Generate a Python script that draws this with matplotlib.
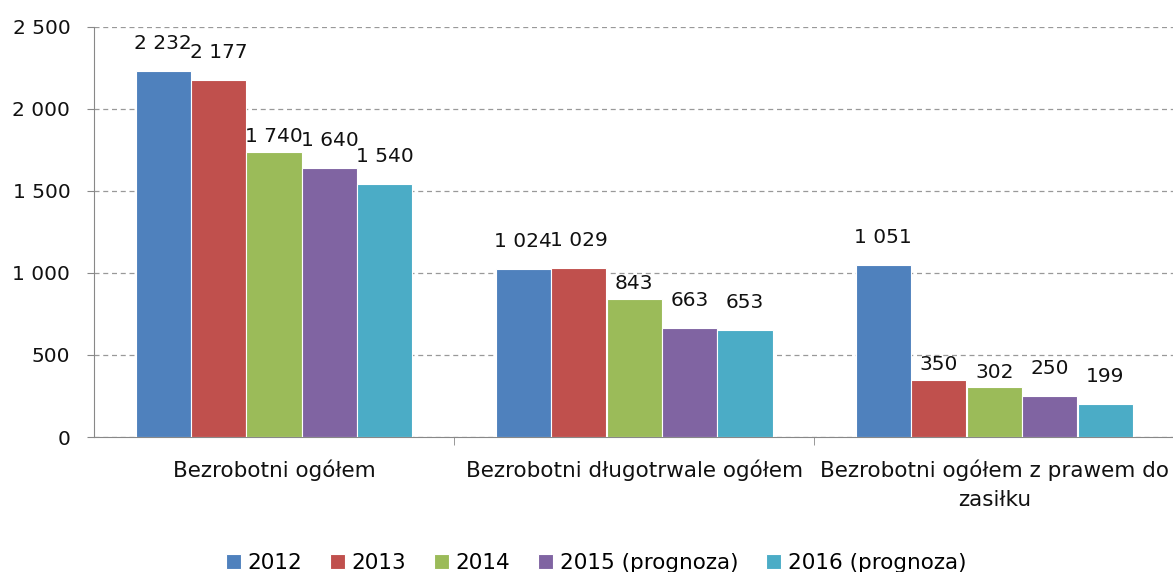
import matplotlib.pyplot as plt
import numpy as np

categories = ["Bezrobotni ogółem", "Bezrobotni długotrwale ogółem",
              "Bezrobotni ogółem z prawem do\nzasiłku"]
series = ["2012", "2013", "2014", "2015 (prognoza)", "2016 (prognoza)"]
v2012 = [2232, 1024, 1051]
v2013 = [2177, 1029, 350]
v2014 = [1740, 843, 302]
v2015 = [1640, 663, 250]
v2016 = [1540, 653, 199]
values = [v2012, v2013, v2014, v2015, v2016]
colors = ["#4F81BD", "#C0504D", "#9BBB59", "#8064A2", "#4BACC6"]

# labels that Excel pushed closer to the bar (series index, category index)
low_labels = {(2, 0), (2, 1), (1, 2), (2, 2)}

def fmt(v):
    return f"{v:,}".replace(",", " ")

plt.rcParams["font.family"] = "DejaVu Sans"
fig = plt.figure(figsize=(11.73, 5.72), dpi=100)
ax = fig.add_axes([0.0801, 0.236, 0.921, 0.717])

x = np.arange(len(categories))
w = 0.153
step = 0.154
for i, (name, vals) in enumerate(zip(series, values)):
    pos = x + (i - 2) * step
    bars = ax.bar(pos, vals, w, color=colors[i], edgecolor="white",
                  linewidth=0.8, label=name, zorder=3)
    for j, b in enumerate(bars):
        off = 4 if (i, j) in low_labels else 13
        ax.annotate(fmt(vals[j]), (b.get_x() + b.get_width() / 2, b.get_height()),
                    xytext=(0, off), textcoords="offset points",
                    ha="center", va="bottom", fontsize=14.5, color="#111111")

ax.set_xlim(-0.5, 2.5)
ax.set_ylim(0, 2500)
ax.set_yticks(range(0, 2501, 500))
ax.set_yticklabels([fmt(t) for t in range(0, 2501, 500)])
ax.yaxis.grid(True, linestyle=(0, (4, 3)), color="#999999", linewidth=0.9, zorder=0)

ax.set_xticks(x)
ax.set_xticklabels(categories, fontsize=15.5, color="#111111", linespacing=1.55)
ax.set_xticks([0.5, 1.5], minor=True)
ax.tick_params(axis="x", which="major", length=0, pad=16)
ax.tick_params(axis="x", which="minor", length=6, color="#888888")
ax.tick_params(axis="y", length=5, color="#888888", labelsize=14.5,
               labelcolor="#111111", pad=12)

for s in ["top", "right"]:
    ax.spines[s].set_visible(False)
ax.spines["left"].set_color("#888888")
ax.spines["bottom"].set_color("#888888")

fig.legend(loc="lower center", bbox_to_anchor=(0.508, -0.035), ncol=5,
           frameon=False, fontsize=15.5, handlelength=0.7, handleheight=0.7,
           handletextpad=0.3, columnspacing=1.3)

fig.savefig("out.png", dpi=100)
